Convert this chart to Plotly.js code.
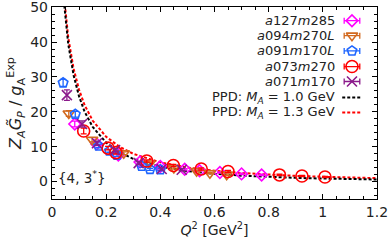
<!DOCTYPE html>
<html><head><meta charset="utf-8">
<script src="https://cdn.plot.ly/plotly-3.0.1.min.js"></script>
<style>html,body{margin:0;padding:0;background:#fff}#c{width:390px;height:243px}</style>
</head><body><div id="c"></div>
<script>
// ---- data ----
const seriesNames = ["a127m285","a094m270L","a091m170L","a073m270","a071m170"];
const q2_a127 = [0.084,0.165,0.245,0.325,0.40,0.49,0.545,0.62,0.70,0.774];
const v_a127  = [16.5,10.8,7.6,5.6,4.3,3.5,3.1,2.6,2.2,1.9];
const e_a127  = [0.8,0.5,0.4,0.3,0.3,0.2,0.2,0.2,0.2,0.2];
const q2_a094 = [0.062,0.148,0.265,0.36,0.45,0.534,0.583,0.645];
const v_a094  = [19.5,12.0,8.1,5.2,3.9,3.0,2.4,2.0];
const e_a094  = [0.8,0.6,0.4,0.3,0.3,0.2,0.2,0.2];
const q2_a091 = [0.041,0.086,0.172,0.212,0.24,0.331,0.362,0.40];
const v_a091  = [28.3,19.3,10.2,8.8,7.6,4.4,3.5,3.4];
const e_a091  = [1.0,0.8,0.5,0.4,0.4,0.3,0.3,0.3];
const q2_a073 = [0.117,0.207,0.236,0.35,0.448,0.551,0.65,0.84,0.923,1.008];
const v_a073  = [14.5,9.6,8.3,5.9,4.6,3.6,2.9,1.9,1.6,1.3];
const e_a073  = [0.8,0.5,0.4,0.3,0.3,0.3,0.3,0.2,0.2,0.2];
const q2_a071 = [0.055,0.111,0.166,0.233,0.32,0.405,0.479];
const v_a071  = [24.8,16.5,11.0,9.0,5.3,3.6,3.4];
const e_a071  = [1.5,0.9,0.6,0.5,0.4,0.3,0.3];
const q2_ppd  = [0.04,0.05,0.06,0.08,0.1,0.12,0.15,0.2,0.25,0.3,0.4,0.5,0.6,0.7,0.8,0.9,1.0,1.1,1.2];
const v_ppd10 = [54.7,46.0,39.4,30.4,24.4,20.1,15.7,11.15,8.37,6.53,4.29,3.02,2.22,1.70,1.33,1.06,0.87,0.71,0.60];
const v_ppd13 = [56.5,47.8,41.3,32.3,26.3,22.0,17.5,12.84,9.93,7.96,5.50,4.04,3.10,2.45,1.98,1.63,1.37,1.16,0.99];
const ppdNames = ["PPD: <i>M<sub>A</sub></i> = 1.0 GeV","PPD: <i>M<sub>A</sub></i> = 1.3 GeV"];
const xTicks = [0,0.2,0.4,0.6,0.8,1,1.2];
const xTickText = ["0","0.2","0.4","0.6","0.8","1","1.2"];
const yTicks = [0,10,20,30,40,50];

// ---- styles ----
const colors = ["#ff00ff","#d2691e","#1f66ff","#ff0000","#8b1a8b"];
const symbols = ["diamond-open","triangle-down-open","pentagon-open","circle-open","x-thin-open"];
const sizes = [9,10,10,12,10];
const F = "DejaVu Sans, sans-serif";

const X = [q2_a127,q2_a094,q2_a091,q2_a073,q2_a071];
const Y = [v_a127,v_a094,v_a091,v_a073,v_a071];
const E = [e_a127,e_a094,e_a091,e_a073,e_a071];

const traces = [];
traces.push({x:q2_ppd,y:v_ppd13,mode:"lines",line:{color:"#ff0000",width:2,dash:"3px,2px"},showlegend:false,hoverinfo:"skip"});
traces.push({x:q2_ppd,y:v_ppd10,mode:"lines",line:{color:"#000000",width:2,dash:"3px,2px"},showlegend:false,hoverinfo:"skip"});
for(let i=0;i<5;i++){
  traces.push({x:X[i],y:Y[i],mode:"markers",showlegend:false,
    marker:{symbol:symbols[i],size:sizes[i],color:colors[i],line:{color:colors[i],width:1.6}},
    error_y:{type:"data",array:E[i],color:colors[i],thickness:1.3,width:3}});
}
// legend (overlay axis in 0..1 units)
const rowsY = [20.7,35.7,51,66.7,81.7,97.7,112.7];
const plotTop=7, plotH=192.5;
const ry = p => 1-(p-plotTop)/plotH;
const annotations = [];
const mx = 0.923;
for(let i=0;i<5;i++){
  traces.push({x:[mx],y:[ry(rowsY[i])],xaxis:"x2",yaxis:"y2",mode:"markers",showlegend:false,hoverinfo:"skip",
    marker:{symbol:symbols[i],size:sizes[i],color:colors[i],line:{color:colors[i],width:1.6}},
    error_x:{type:"constant",value:0.024,color:colors[i],thickness:1.3,width:3}});
  annotations.push({xref:"x2",yref:"y2",x:0.878,y:ry(rowsY[i]),xanchor:"right",yanchor:"middle",showarrow:false,
    text:"<i>"+seriesNames[i].replace(/(\d+)/g,"</i>$1<i>")+"</i>",font:{family:F,size:13,color:"#222"}});
}
const ppdCol = ["#000000","#ff0000"];
for(let j=0;j<2;j++){
  traces.push({x:[0.893,0.95],y:[ry(rowsY[5+j]),ry(rowsY[5+j])],xaxis:"x2",yaxis:"y2",mode:"lines",showlegend:false,hoverinfo:"skip",
    line:{color:ppdCol[j],width:2,dash:"3px,2px"}});
  annotations.push({xref:"x2",yref:"y2",x:0.878,y:ry(rowsY[5+j]),xanchor:"right",yanchor:"middle",showarrow:false,
    text:ppdNames[j],font:{family:F,size:13,color:"#222"}});
}
annotations.push({xref:"paper",yref:"paper",x:0.012,y:0.115,xanchor:"left",yanchor:"middle",showarrow:false,
  text:"{4, 3<sup>*</sup>}",font:{family:F,size:13.5,color:"#222"}});

const axCommon = {showgrid:false,zeroline:false,showline:true,linecolor:"#000",linewidth:1.2,mirror:"ticks",
  ticks:"inside",ticklen:5,tickwidth:1,tickcolor:"#000",ticklabeloverflow:"allow",tickfont:{family:F,size:14,color:"#222"}};
const layout = {
  width:390,height:243,margin:{l:52,r:13,t:7,b:43.5},paper_bgcolor:"#fff",plot_bgcolor:"#fff",showlegend:false,
  xaxis:Object.assign({},axCommon,{range:[0,1.2001],tickvals:xTicks,ticktext:xTickText,
    minor:{dtick:0.05,ticks:"inside",ticklen:3,tickcolor:"#000"},
    title:{text:"<i>Q</i><sup>2</sup> [GeV<sup>2</sup>]",font:{family:F,size:14,color:"#222"},standoff:4}}),
  yaxis:Object.assign({},axCommon,{range:[-5,50.05],tickvals:yTicks,
    minor:{dtick:2,ticks:"inside",ticklen:3,tickcolor:"#000"},
    title:{text:"<i>Z<sub>A</sub>G̃<sub>P</sub></i> / <i>g</i><sub>A</sub><sup>Exp</sup>",font:{family:F,size:16,color:"#222"},standoff:4}}),
  xaxis2:{overlaying:"x",range:[0,1],visible:false,fixedrange:true},
  yaxis2:{overlaying:"y",range:[0,1],visible:false,fixedrange:true},
  annotations:annotations
};
Plotly.newPlot("c",traces,layout,{staticPlot:true,displayModeBar:false});
</script></body></html>
